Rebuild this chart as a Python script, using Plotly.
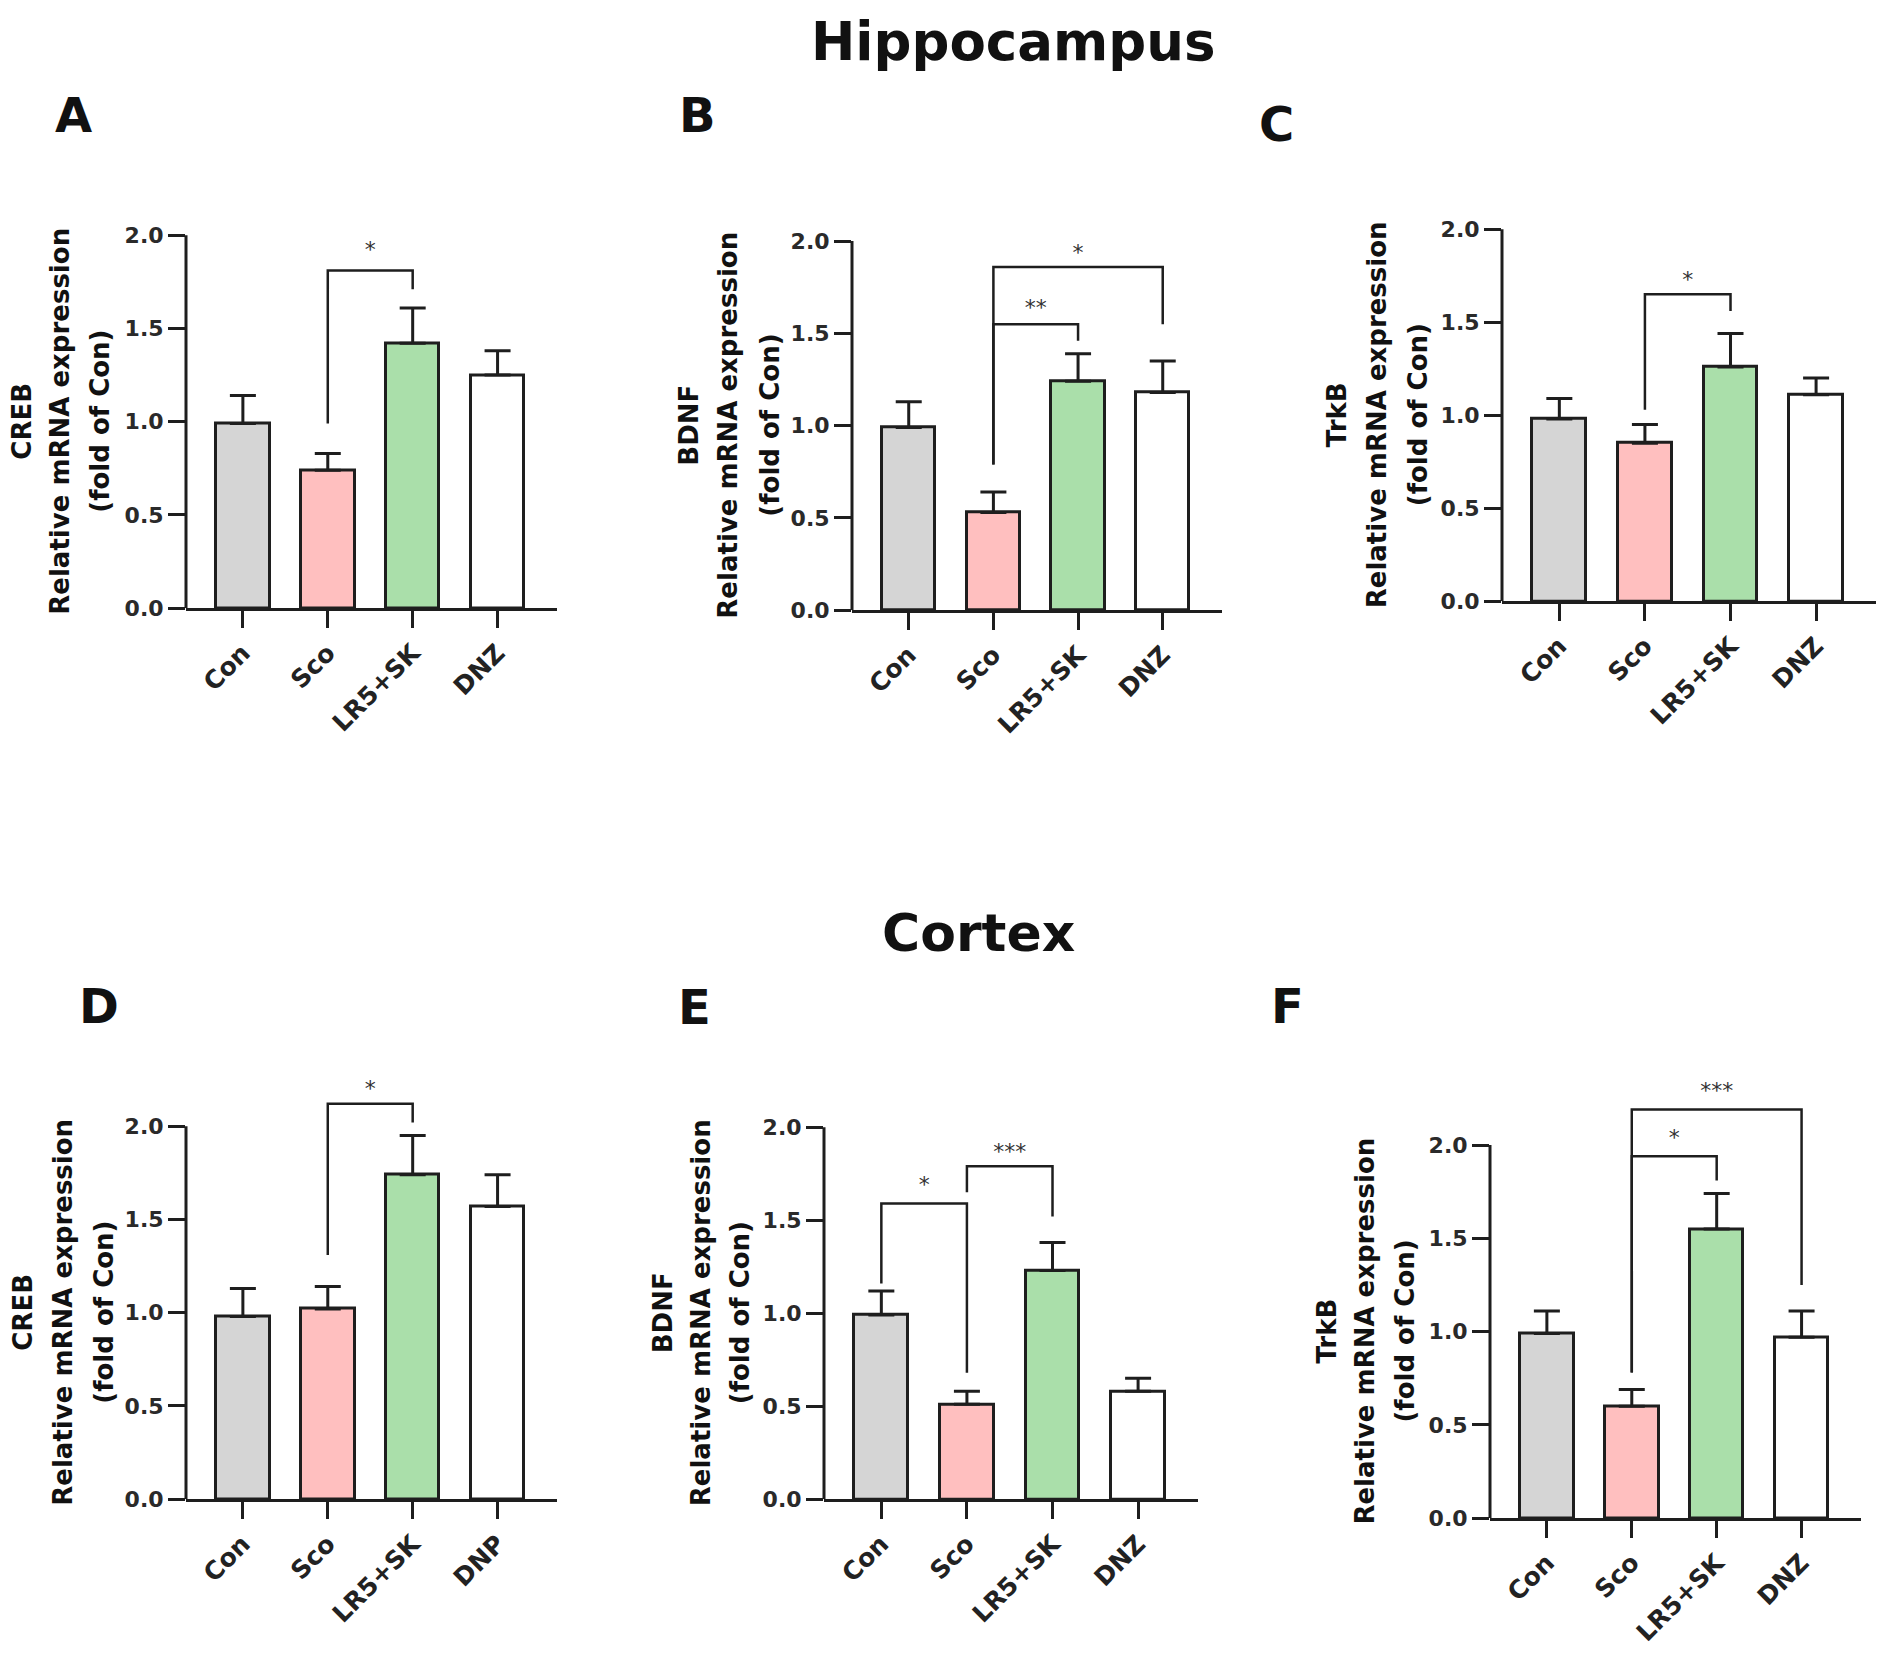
import plotly.graph_objects as go

# groups on the x axis
groups = ["Con", "Sco", "LR5+SK", "DNZ"]
groups_creb_ctx = ["Con", "Sco", "LR5+SK", "DNP"]
y_tick_vals = [0, 0.5, 1.0, 1.5, 2.0]
y_tick_text = ["0.0", "0.5", "1.0", "1.5", "2.0"]

# Hippocampus (mean, SEM)
creb_hip = [0.99, 0.74, 1.42, 1.25]
creb_hip_err = [0.15, 0.09, 0.19, 0.13]
bdnf_hip = [0.99, 0.53, 1.24, 1.18]
bdnf_hip_err = [0.14, 0.11, 0.15, 0.17]
trkb_hip = [0.98, 0.85, 1.26, 1.11]
trkb_hip_err = [0.11, 0.10, 0.18, 0.09]

# Cortex (mean, SEM)
creb_ctx = [0.98, 1.02, 1.74, 1.57]
creb_ctx_err = [0.15, 0.12, 0.21, 0.17]
bdnf_ctx = [0.99, 0.51, 1.23, 0.58]
bdnf_ctx_err = [0.13, 0.07, 0.15, 0.07]
trkb_ctx = [0.99, 0.60, 1.55, 0.97]
trkb_ctx_err = [0.12, 0.09, 0.19, 0.14]

# significance brackets: (from group, to group, left leg end, top, right leg end, label, label y)
sig_creb_hip = [(1, 2, 0.99, 1.81, 1.71, "*", 1.91)]
sig_bdnf_hip = [(1, 2, 0.79, 1.55, 1.46, "**", 1.63), (1, 3, 0.79, 1.86, 1.55, "*", 1.93)]
sig_trkb_hip = [(1, 2, 1.03, 1.65, 1.56, "*", 1.72)]
sig_creb_ctx = [(1, 2, 1.31, 2.12, 2.02, "*", 2.19)]
sig_bdnf_ctx = [(0, 1, 1.16, 1.59, 0.68, "*", 1.68), (1, 2, 1.65, 1.79, 1.52, "***", 1.86)]
sig_trkb_ctx = [(1, 2, 0.78, 1.94, 1.81, "*", 2.03), (1, 3, 0.78, 2.19, 1.25, "***", 2.28)]

W, H = 1902, 1671
ink = "#1e1e1e"
bar_colors = ["#d5d5d5", "#ffbfbf", "#aadfaa", "#ffffff"]
font = "DejaVu Sans, Verdana, sans-serif"
YMAX = 2.4

# panel geometry in pixels: y-axis x, x-axis end, pixel of 0.0, pixel of 2.0,
# x of the three title lines, letter x/y
panels = [
    dict(letter="A", gene="CREB", vals=creb_hip, err=creb_hip_err, sig=sig_creb_hip, cats=groups,
         x0=186, x1=557, yb=613, yt=237, tl=[22, 60, 100], lx=73, ly=116),
    dict(letter="B", gene="BDNF", vals=bdnf_hip, err=bdnf_hip_err, sig=sig_bdnf_hip, cats=groups,
         x0=852, x1=1222, yb=615, yt=243, tl=[689, 728, 770], lx=697, ly=116),
    dict(letter="C", gene="TrkB", vals=trkb_hip, err=trkb_hip_err, sig=sig_trkb_hip, cats=groups,
         x0=1502, x1=1876, yb=606, yt=231, tl=[1337, 1377, 1418], lx=1276, ly=125),
    dict(letter="D", gene="CREB", vals=creb_ctx, err=creb_ctx_err, sig=sig_creb_ctx, cats=groups_creb_ctx,
         x0=186, x1=557, yb=1511, yt=1135, tl=[23, 63, 104], lx=99, ly=1014),
    dict(letter="E", gene="BDNF", vals=bdnf_ctx, err=bdnf_ctx_err, sig=sig_bdnf_ctx, cats=groups,
         x0=824, x1=1198, yb=1511, yt=1136, tl=[663, 701, 740], lx=694, ly=1015),
    dict(letter="F", gene="TrkB", vals=trkb_ctx, err=trkb_ctx_err, sig=sig_trkb_ctx, cats=groups,
         x0=1490, x1=1861, yb=1530, yt=1154, tl=[1327, 1365, 1405], lx=1287, ly=1014),
]


def fx(px):
    return px / W


def fy(py):
    return 1 - py / H


fig = go.Figure()
annotations = []
shapes = []

for i, p in enumerate(panels, start=1):
    sfx = "" if i == 1 else str(i)
    xa, ya = "x" + sfx, "y" + sfx
    pos = list(range(len(p["cats"])))

    fig.add_trace(go.Bar(
        x=pos, y=p["vals"], width=0.63, xaxis=xa, yaxis=ya, showlegend=False,
        marker=dict(color=bar_colors, line=dict(color=ink, width=3)),
        error_y=dict(type="data", array=p["err"], arrayminus=[0] * len(pos), symmetric=False,
                     color=ink, thickness=3, width=13),
    ))

    for a, b, left, top, right, label, label_y in p["sig"]:
        fig.add_trace(go.Scatter(
            x=[a, a, b, b], y=[left, top, top, right], mode="lines", xaxis=xa, yaxis=ya,
            line=dict(color=ink, width=2.5), showlegend=False, hoverinfo="skip",
        ))
        fig.add_trace(go.Scatter(
            x=[(a + b) / 2], y=[label_y], mode="text", text=[label], xaxis=xa, yaxis=ya,
            textfont=dict(family=font, size=22, color="#333333"), showlegend=False,
            cliponaxis=False, hoverinfo="skip",
        ))

    # pixel of YMAX from 0.0 and 2.0 positions
    y_top_px = p["yb"] - (p["yb"] - p["yt"]) * YMAX / 2.0
    fig.layout["xaxis" + sfx] = dict(
        domain=[fx(p["x0"]), fx(p["x1"])], anchor=ya, range=[-0.67, 3.7],
        tickvals=pos, ticktext=["<b>%s</b>" % c for c in p["cats"]], tickangle=-45,
        ticks="outside", ticklen=17, tickwidth=3, tickcolor=ink,
        showline=True, linewidth=3, linecolor=ink, showgrid=False, zeroline=False,
        tickfont=dict(family=font, size=25, color="#222222"), fixedrange=True,
    )
    fig.layout["yaxis" + sfx] = dict(
        domain=[fy(p["yb"]), fy(y_top_px)], anchor=xa, range=[0, YMAX],
        tickvals=y_tick_vals, ticktext=["<b>%s</b>" % t for t in y_tick_text],
        ticks="outside", ticklen=17, tickwidth=3, tickcolor=ink,
        showline=False, showgrid=False, zeroline=False,
        tickfont=dict(family=font, size=22, color="#2a2a2a"), fixedrange=True,
    )
    # y axis line stops at 2.0 like the original
    shapes.append(dict(type="line", xref=xa + " domain", yref=ya, x0=0, x1=0, y0=0, y1=2.0,
                       line=dict(color=ink, width=3)))

    lines = [p["gene"], "Relative mRNA expression", "(fold of Con)"]
    for line_x, line in zip(p["tl"], lines):
        annotations.append(dict(
            text="<b>%s</b>" % line, xref="paper", yref="paper",
            x=fx(line_x), y=fy((p["yb"] + p["yt"]) / 2),
            xanchor="center", yanchor="middle", textangle=-90, showarrow=False,
            font=dict(family=font, size=26, color="#111111"),
        ))
    annotations.append(dict(
        text="<b>%s</b>" % p["letter"], xref="paper", yref="paper",
        x=fx(p["lx"]), y=fy(p["ly"]), xanchor="center", yanchor="middle", showarrow=False,
        font=dict(family=font, size=48, color="#111111"),
    ))

annotations.append(dict(text="<b>Hippocampus</b>", xref="paper", yref="paper",
                        x=fx(1013), y=fy(42), xanchor="center", yanchor="middle", showarrow=False,
                        font=dict(family=font, size=53, color="#111111")))
annotations.append(dict(text="<b>Cortex</b>", xref="paper", yref="paper",
                        x=fx(978), y=fy(940), xanchor="center", yanchor="middle", showarrow=False,
                        font=dict(family=font, size=52, color="#111111")))

fig.update_layout(
    width=W, height=H, margin=dict(l=0, r=0, t=0, b=0),
    paper_bgcolor="white", plot_bgcolor="white",
    annotations=annotations, shapes=shapes, bargap=0,
)

fig.write_html("out.html", config={"displayModeBar": False},
               post_script="document.body.style.margin='0';")
